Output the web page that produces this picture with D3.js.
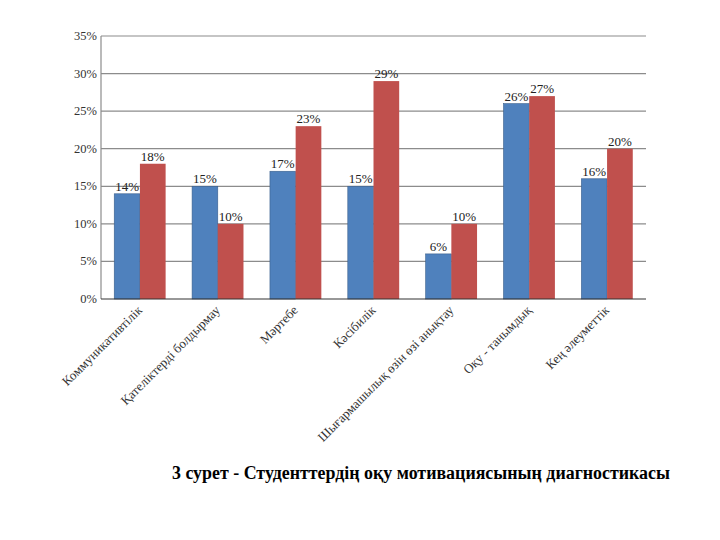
<!DOCTYPE html>
<html>
<head>
<meta charset="utf-8">
<script src="https://cdn.jsdelivr.net/npm/d3@7"></script>
<style>
body{margin:0;background:#fff}
</style>
</head>
<body>
<div id="chart"></div>
<script>
var categories = ["Коммуникативтілік","Қателіктерді болдырмау","Мәртебе","Кәсібилік","Шығармашылық өзін өзі анықтау","Оқу - танымдық","Кең әлеуметтік"]
var series1 = [14,15,17,15,6,26,16]
var series2 = [18,10,23,29,10,27,20]
var yTicks = [0,5,10,15,20,25,30,35]
var colors = ["#4F81BD","#C0504D"]
var title = "3 сурет - Студенттердің оқу мотивациясының диагностикасы"

var svg = d3.select("#chart").append("svg")
    .attr("width",720).attr("height",540)

var x = d3.scaleBand().domain(categories).range([101,646]).paddingInner(0.34).paddingOuter(0.17)
var xs = d3.scaleBand().domain([0,1]).range([0,x.bandwidth()])
var y = d3.scaleLinear().domain([0,35]).range([299,36])

var serif = "'Liberation Serif','Times New Roman',serif"

// grid
svg.selectAll("grid")
    .data(yTicks.slice(1))
    .enter()
    .append("line")
    .attr("x1",101).attr("x2",646)
    .attr("y1",d=>y(d)).attr("y2",d=>y(d))
    .attr("stroke","#8c8c8c")
    .attr("stroke-width",1.2)

svg.append("line")
    .attr("x1",101).attr("x2",101).attr("y1",y(35)).attr("y2",y(0))
    .attr("stroke","#8c8c8c").attr("stroke-width",1.2)

svg.selectAll("ytick")
    .data(yTicks)
    .enter()
    .append("text")
    .text(d=>d+"%")
    .attr("x",97)
    .attr("y",d=>y(d))
    .attr("text-anchor","end")
    .attr("dominant-baseline","central")
    .attr("font-family",serif)
    .attr("font-size",12.5)
    .attr("fill","#333")

var rows = categories.map((c,i)=>[{cat:c,s:0,v:series1[i]},{cat:c,s:1,v:series2[i]}]).flat()

svg.selectAll("bar")
    .data(rows)
    .enter()
    .append("rect")
    .attr("x",d=>x(d.cat)+xs(d.s))
    .attr("width",xs.bandwidth())
    .attr("y",d=>y(d.v))
    .attr("height",d=>y(0)-y(d.v))
    .attr("fill",d=>colors[d.s])
    .attr("stroke",d=>d.s==0?"#3a5f8c":"none")
    .attr("stroke-width",0.6)

svg.selectAll("vlabel")
    .data(rows)
    .enter()
    .append("text")
    .text(d=>d.v+"%")
    .attr("x",d=>x(d.cat)+xs(d.s)+xs.bandwidth()/2)
    .attr("y",d=>y(d.v)-3)
    .attr("text-anchor","middle")
    .attr("font-family",serif)
    .attr("font-size",13)
    .attr("fill","#222")

svg.append("line")
    .attr("x1",101).attr("x2",646).attr("y1",y(0)).attr("y2",y(0))
    .attr("stroke","#333").attr("stroke-width",1.2)

svg.selectAll("xlabel")
    .data(categories)
    .enter()
    .append("text")
    .text(d=>d)
    .attr("transform",d=>"translate("+(x(d)+x.bandwidth()/2+3)+",311) rotate(-45)")
    .attr("text-anchor","end")
    .attr("font-family",serif)
    .attr("font-size",13)
    .attr("fill","#333")

svg.append("text")
    .text(title)
    .attr("x",172)
    .attr("y",479)
    .attr("font-family",serif)
    .attr("font-weight",700)
    .attr("font-size",17.9)
    .attr("fill","#000")
</script>
</body>
</html>
